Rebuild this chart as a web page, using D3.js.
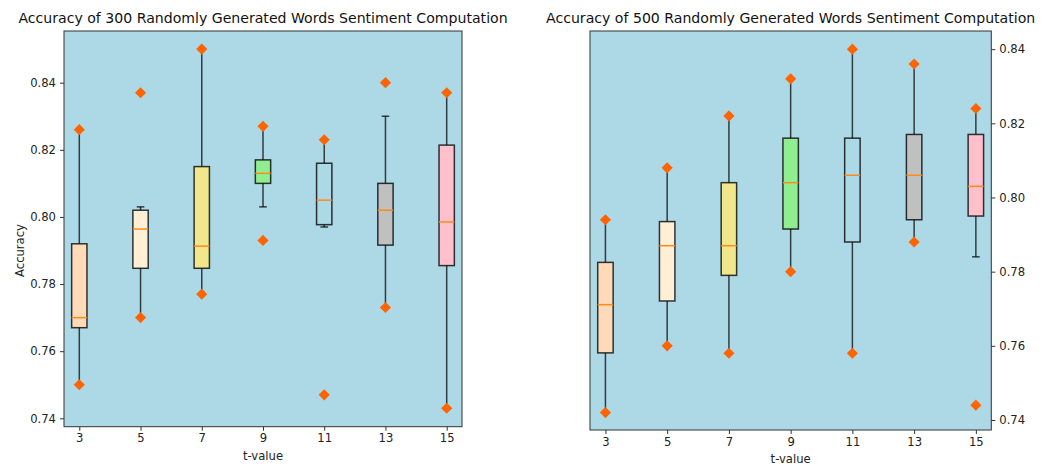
<!DOCTYPE html>
<html>
<head>
<meta charset="utf-8">
<script src="https://cdn.jsdelivr.net/npm/d3@7/dist/d3.min.js"></script>
<style>
  html, body { margin: 0; padding: 0; background: #ffffff; }
  svg { display: block; font-family: "DejaVu Sans", sans-serif; }
</style>
</head>
<body>
<svg id="chart" width="1052" height="466"></svg>
<script>
// t-values on the x axis and box fill colours
const tValues = [3, 5, 7, 9, 11, 13, 15];
const boxColors = ["peachpuff", "papayawhip", "khaki", "lightgreen", "lightblue", "silver", "pink"];
const yTicks = [0.74, 0.76, 0.78, 0.80, 0.82, 0.84];

// 300 words: box statistics per t-value
const q1_300 = [0.767, 0.7847, 0.7847, 0.810, 0.7977, 0.7916, 0.7855];
const median_300 = [0.770, 0.7964, 0.7913, 0.813, 0.805, 0.802, 0.7985];
const q3_300 = [0.792, 0.802, 0.815, 0.817, 0.816, 0.810, 0.8214];
const whiskerLow_300 = [0.750, 0.770, 0.777, 0.803, 0.797, 0.773, 0.743];
const whiskerHigh_300 = [0.826, 0.803, 0.850, 0.827, 0.823, 0.830, 0.837];
const minAcc_300 = [0.750, 0.770, 0.777, 0.793, 0.747, 0.773, 0.743];
const maxAcc_300 = [0.826, 0.837, 0.850, 0.827, 0.823, 0.840, 0.837];

// 500 words: box statistics per t-value
const q1_500 = [0.7581, 0.7721, 0.779, 0.7915, 0.788, 0.794, 0.795];
const median_500 = [0.7711, 0.787, 0.787, 0.804, 0.806, 0.806, 0.803];
const q3_500 = [0.7825, 0.7935, 0.804, 0.816, 0.816, 0.817, 0.817];
const whiskerLow_500 = [0.742, 0.760, 0.758, 0.780, 0.758, 0.788, 0.784];
const whiskerHigh_500 = [0.794, 0.808, 0.822, 0.832, 0.840, 0.836, 0.824];
const minAcc_500 = [0.742, 0.760, 0.758, 0.780, 0.758, 0.788, 0.744];
const maxAcc_500 = [0.794, 0.808, 0.822, 0.832, 0.840, 0.836, 0.824];

const svg = d3.select("#chart");
const tickFont = 11.6;

function rows(q1, med, q3, wl, wh, mn, mx) {
  return tValues.map((t, i) => ({
    t, color: boxColors[i], q1: q1[i], med: med[i], q3: q3[i],
    wl: wl[i], wh: wh[i], mn: mn[i], mx: mx[i]
  }));
}

function drawPanel(cfg) {
  const { left, top, width, height, yDomain, data, title, yLabel, yRight, xLabelY } = cfg;
  const g = svg.append("g").attr("transform", `translate(${left},${top})`);

  const x = d3.scaleLinear().domain([2.5, 15.5]).range([0, width]);
  const y = d3.scaleLinear().domain(yDomain).range([height, 0]);
  const boxW = x(0.5) - x(0);
  const capW = boxW / 2;

  g.append("rect").attr("width", width).attr("height", height).attr("fill", "#add8e6");

  const marks = g.append("g");
  const items = marks.selectAll("g.box").data(data).join("g").attr("class", "box");

  // whiskers
  items.append("line")
    .attr("x1", d => x(d.t)).attr("x2", d => x(d.t))
    .attr("y1", d => y(d.q1)).attr("y2", d => y(d.wl))
    .attr("stroke", "#000").attr("stroke-opacity", 0.72).attr("stroke-width", 1.5);
  items.append("line")
    .attr("x1", d => x(d.t)).attr("x2", d => x(d.t))
    .attr("y1", d => y(d.q3)).attr("y2", d => y(d.wh))
    .attr("stroke", "#000").attr("stroke-opacity", 0.72).attr("stroke-width", 1.5);
  // caps
  ["wl", "wh"].forEach(k => {
    items.append("line")
      .attr("x1", d => x(d.t) - capW / 2).attr("x2", d => x(d.t) + capW / 2)
      .attr("y1", d => y(d[k])).attr("y2", d => y(d[k]))
      .attr("stroke", "#000").attr("stroke-opacity", 0.72).attr("stroke-width", 1.5);
  });
  // boxes
  items.append("rect")
    .attr("x", d => x(d.t) - boxW / 2).attr("width", boxW)
    .attr("y", d => y(d.q3)).attr("height", d => y(d.q1) - y(d.q3))
    .attr("fill", d => d.color)
    .attr("stroke", "#000").attr("stroke-opacity", 0.78).attr("stroke-width", 1.5);
  // medians
  items.append("line")
    .attr("x1", d => x(d.t) - boxW / 2).attr("x2", d => x(d.t) + boxW / 2)
    .attr("y1", d => y(d.med)).attr("y2", d => y(d.med))
    .attr("stroke", "#ff8c1a").attr("stroke-width", 1.5);
  // min / max markers
  const diamond = d3.symbol().type(d3.symbolSquare).size(62);
  ["mn", "mx"].forEach(k => {
    items.append("path")
      .attr("d", diamond)
      .attr("transform", d => `translate(${x(d.t)},${y(d[k])}) rotate(45)`)
      .attr("fill", "#ff6400");
  });

  // frame
  g.append("rect").attr("width", width).attr("height", height)
    .attr("fill", "none").attr("stroke", "#333").attr("stroke-width", 1);

  // x axis
  const xAxis = g.append("g").attr("transform", `translate(0,${height})`)
    .call(d3.axisBottom(x).tickValues(tValues).tickFormat(d3.format("d")).tickSizeOuter(0).tickSize(4).tickPadding(3.5));
  xAxis.select(".domain").remove();
  xAxis.selectAll("text").attr("font-size", tickFont).attr("fill", "#222").attr("font-family", "DejaVu Sans");
  xAxis.selectAll("line").attr("stroke", "#333");

  // y axis
  const yAx = yRight ? d3.axisRight(y) : d3.axisLeft(y);
  const yAxis = g.append("g").attr("transform", `translate(${yRight ? width : 0},0)`)
    .call(yAx.tickValues(yTicks).tickFormat(d3.format(".2f")).tickSizeOuter(0).tickSize(4).tickPadding(4));
  yAxis.select(".domain").remove();
  yAxis.selectAll("text").attr("font-size", tickFont).attr("fill", "#222").attr("font-family", "DejaVu Sans");
  yAxis.selectAll("line").attr("stroke", "#333");

  // title and axis labels
  svg.append("text")
    .attr("x", left + width / 2).attr("y", 23)
    .attr("text-anchor", "middle").attr("font-size", 14.1).attr("fill", "#111")
    .text(title);
  svg.append("text")
    .attr("x", left + width / 2).attr("y", xLabelY)
    .attr("text-anchor", "middle").attr("font-size", tickFont).attr("fill", "#222")
    .text("t-value");
  if (yLabel) {
    svg.append("text")
      .attr("transform", `translate(24,${top + y(0.79)}) rotate(-90)`)
      .attr("text-anchor", "middle").attr("font-size", tickFont).attr("fill", "#222")
      .text(yLabel);
  }
}

drawPanel({
  left: 64, top: 31, width: 398, height: 395.7,
  yDomain: [0.7375, 0.8554],
  data: rows(q1_300, median_300, q3_300, whiskerLow_300, whiskerHigh_300, minAcc_300, maxAcc_300),
  title: "Accuracy of 300 Randomly Generated Words Sentiment Computation",
  yLabel: "Accuracy", yRight: false, xLabelY: 460
});

drawPanel({
  left: 590, top: 31, width: 401.3, height: 399,
  yDomain: [0.7373, 0.8449],
  data: rows(q1_500, median_500, q3_500, whiskerLow_500, whiskerHigh_500, minAcc_500, maxAcc_500),
  title: "Accuracy of 500 Randomly Generated Words Sentiment Computation",
  yLabel: null, yRight: true, xLabelY: 463
});
</script>
</body>
</html>
